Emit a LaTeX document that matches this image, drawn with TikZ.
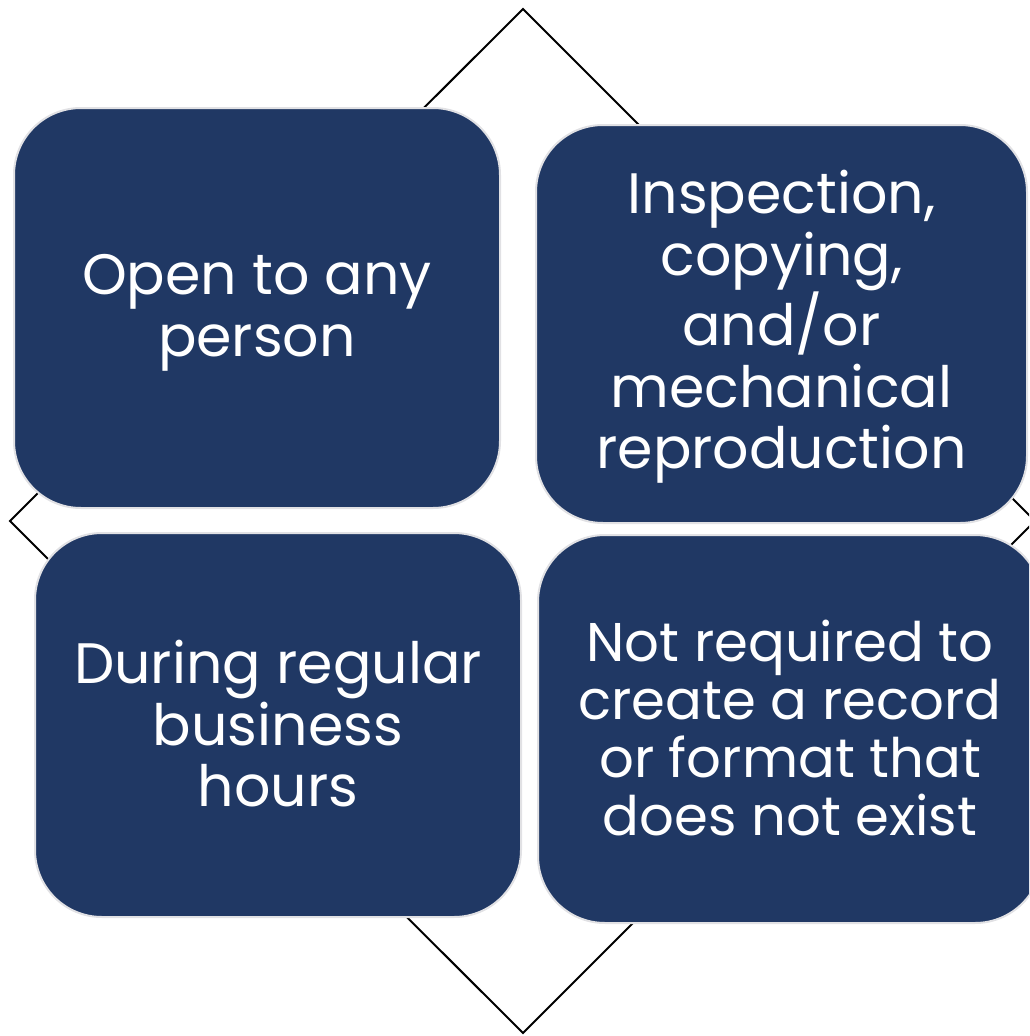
\documentclass[tikz,border=0pt]{standalone}
\usepackage{fontspec}
\setmainfont{Poppins}
\definecolor{navy}{RGB}{32,56,100}
\definecolor{rim}{RGB}{225,225,228}
\begin{document}
\begin{tikzpicture}[x=1pt,y=-1pt,
  card/.style={draw=rim,line width=2pt,fill=navy,rounded corners=67pt,inner sep=0pt},
  cardtext/.style={text=white,align=center,inner sep=0pt,font=\fontsize{57}{61.5}\selectfont},
  frame/.style={draw=black,line width=2pt}]
\useasboundingbox (0,0) rectangle (1029,1036);
\clip (0,0) rectangle (1029,1036);
\coordinate (dt) at (523,9);
\coordinate (dl) at (10,521);
\coordinate (db) at (523,1033);
\coordinate (dr) at (1035,521);
\draw[frame] (dt) -- (dl) -- (db) -- (dr) -- cycle;
\node[card,minimum width=486pt,minimum height=400pt,
  label={[cardtext,yshift=-5pt]center:{Open to any\\person}}] (tl) at (257,308) {};
\node[card,minimum width=491pt,minimum height=398pt,
  label={[cardtext,yshift=-3pt]center:{Inspection,\\copying,\\and/or\\mechanical\\reproduction}}] (tr) at (781.5,324) {};
\node[card,minimum width=486pt,minimum height=384pt,
  label={[cardtext,yshift=1pt]center:{During regular\\business\\hours}}] (bl) at (278,725) {};
\node[card,minimum width=504pt,minimum height=388pt,
  label={[cardtext,font=\fontsize{54.5}{58}\selectfont,yshift=1pt]center:{Not required to\\create a record\\or format that\\does not exist}}] (br) at (790,729) {};
\end{tikzpicture}
\end{document}
